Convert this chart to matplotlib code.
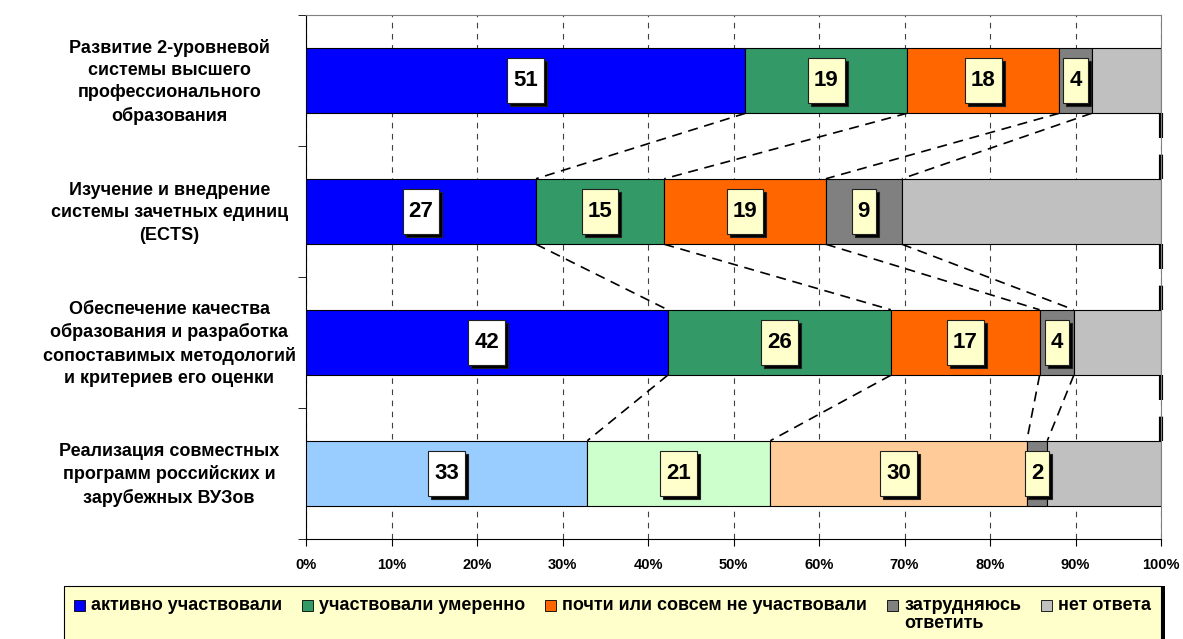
import numpy as np
import matplotlib
matplotlib.use("Agg")
import matplotlib.pyplot as plt
from matplotlib.patches import Rectangle

plt.rcParams['font.family'] = ['Liberation Sans', 'DejaVu Sans']
plt.rcParams['font.weight'] = 'bold'

categories = [
    "Развитие 2-уровневой\nсистемы высшего\nпрофессионального\nобразования",
    "Изучение и внедрение\nсистемы зачетных единиц\n(ECTS)",
    "Обеспечение качества\nобразования и разработка\nсопоставимых методологий\nи критериев его оценки",
    "Реализация совместных\nпрограмм российских и\nзарубежных ВУЗов",
]
series_names = ["активно участвовали", "участвовали умеренно",
                "почти или совсем не участвовали", "затрудняюсь\nответить",
                "нет ответа"]

# shares, % of respondents (row order = categories)
active = [51.4, 26.9, 42.3, 32.9]
moderate = [18.9, 15.0, 26.1, 21.4]
barely = [17.8, 18.9, 17.4, 30.0]
unsure = [3.8, 8.9, 4.0, 2.4]
no_answer = [8.1, 30.3, 10.2, 13.3]

colors = ['#0000FF', '#339966', '#FF6600', '#808080', '#C0C0C0']
colors_last = ['#99CCFF', '#CCFFCC', '#FFCC99', '#808080', '#C0C0C0']
label_face = ['white', '#FFFFCC', '#FFFFCC', '#FFFFCC', None]

series = np.array([active, moderate, barely, unsure, no_answer])
n_cat = len(categories)
y = np.arange(n_cat)
bar_h = 0.5

fig = plt.figure(figsize=(11.83, 6.39), dpi=100)
ax = fig.add_axes([306/1183, 1-539/639, 855/1183, 524/639])

left = np.zeros(n_cat)
cum = []
for i, vals in enumerate(series):
    cols = [colors[i]] * (n_cat - 1) + [colors_last[i]]
    ax.barh(y, vals, left=left, height=bar_h, color=cols, edgecolor='black',
            linewidth=0.8, zorder=3)
    left = left + vals
    cum.append(left.copy())

# series lines between neighbouring bars
for i, c in enumerate(cum):
    last = i == len(cum) - 1
    for k in range(n_cat - 1):
        ax.plot([c[k], c[k+1]], [y[k] + bar_h/2, y[k+1] - bar_h/2], color='black',
                lw=3 if last else 1.2, dashes=(6, 4), zorder=2, clip_on=False)

ax.set_xlim(0, 100)
ax.set_ylim(n_cat - 0.5, -0.5)
ax.set_xticks(np.arange(0, 101, 10))
ax.set_xticklabels([f"{v}%" for v in range(0, 101, 10)], fontsize=10.5, fontweight='bold')
ax.tick_params(axis='x', direction='out', length=5, pad=9, color='black')
ax.set_yticks([])
ax.set_yticks(np.arange(-0.5, n_cat, 1), minor=True)
ax.tick_params(axis='y', which='minor', direction='out', length=6, color='black')
ax.xaxis.grid(True, color='#404040', linestyle=(0, (5, 5)), lw=0.8, zorder=0)
ax.set_axisbelow(True)
for s in ['top', 'right']:
    ax.spines[s].set_color('#808080')
for s in ['left', 'bottom']:
    ax.spines[s].set_color('black')

ytr = ax.get_yaxis_transform()
for k, cat in enumerate(categories):
    ax.text(-0.16, y[k] + 0.01, cat, transform=ytr, ha='center', va='center',
            fontsize=13, fontweight='bold', linespacing=1.4)

# value labels in boxes with shadow
texts = []
for i, vals in enumerate(series):
    if label_face[i] is None:
        continue
    starts = cum[i] - vals
    for k in range(n_cat):
        t = ax.text(starts[k] + vals[k]/2, y[k], f"{int(round(vals[k]))}", ha='center',
                    va='center', fontsize=16, fontweight='bold', zorder=7)
        texts.append((t, label_face[i], starts[k] + vals[k]/2, y[k]))

fig.canvas.draw()
r = fig.canvas.get_renderer()
inv = ax.transData.inverted()
for t, face, xc, yc in texts:
    bb = t.get_window_extent(r)
    cx, cy = ax.transData.transform((xc, yc))
    w = bb.width + 12
    h = 45
    x0, y0 = cx - w/2, cy - h/2
    for dx, dy, fc, z in [(3, -3, 'black', 5), (0, 0, face, 6)]:
        (dx0, dy0) = inv.transform((x0 + dx, y0 + dy))
        (dx1, dy1) = inv.transform((x0 + dx + w, y0 + dy + h))
        ax.add_patch(Rectangle((dx0, dy0), dx1 - dx0, dy1 - dy0, facecolor=fc,
                               edgecolor='#202020', lw=0.8, zorder=z, clip_on=False))

# legend box (runs off the bottom edge like the original)
W, H = 1183, 639
def fx(px): return px / W
def fy(py): return 1 - py / H
fig.patches.append(Rectangle((fx(68), fy(650)), fx(1097), 64/H, facecolor='black',
                             edgecolor='none', transform=fig.transFigure, zorder=1))
fig.patches.append(Rectangle((fx(64), fy(646)), fx(1097), 60/H, facecolor='#FFFFCC',
                             edgecolor='black', lw=0.8, transform=fig.transFigure, zorder=2))
px = 74
for i, name in enumerate(series_names):
    fig.patches.append(Rectangle((fx(px), fy(611)), fx(11), 11/H, facecolor=colors[i],
                                 edgecolor='black', lw=0.6, transform=fig.transFigure, zorder=3))
    t = fig.text(fx(px + 17), fy(597), name, ha='left', va='top', fontsize=13,
                 fontweight='bold', linespacing=1.1, zorder=4)
    px = t.get_window_extent(r).x1 + 20

fig.savefig("out.png", dpi=100)
